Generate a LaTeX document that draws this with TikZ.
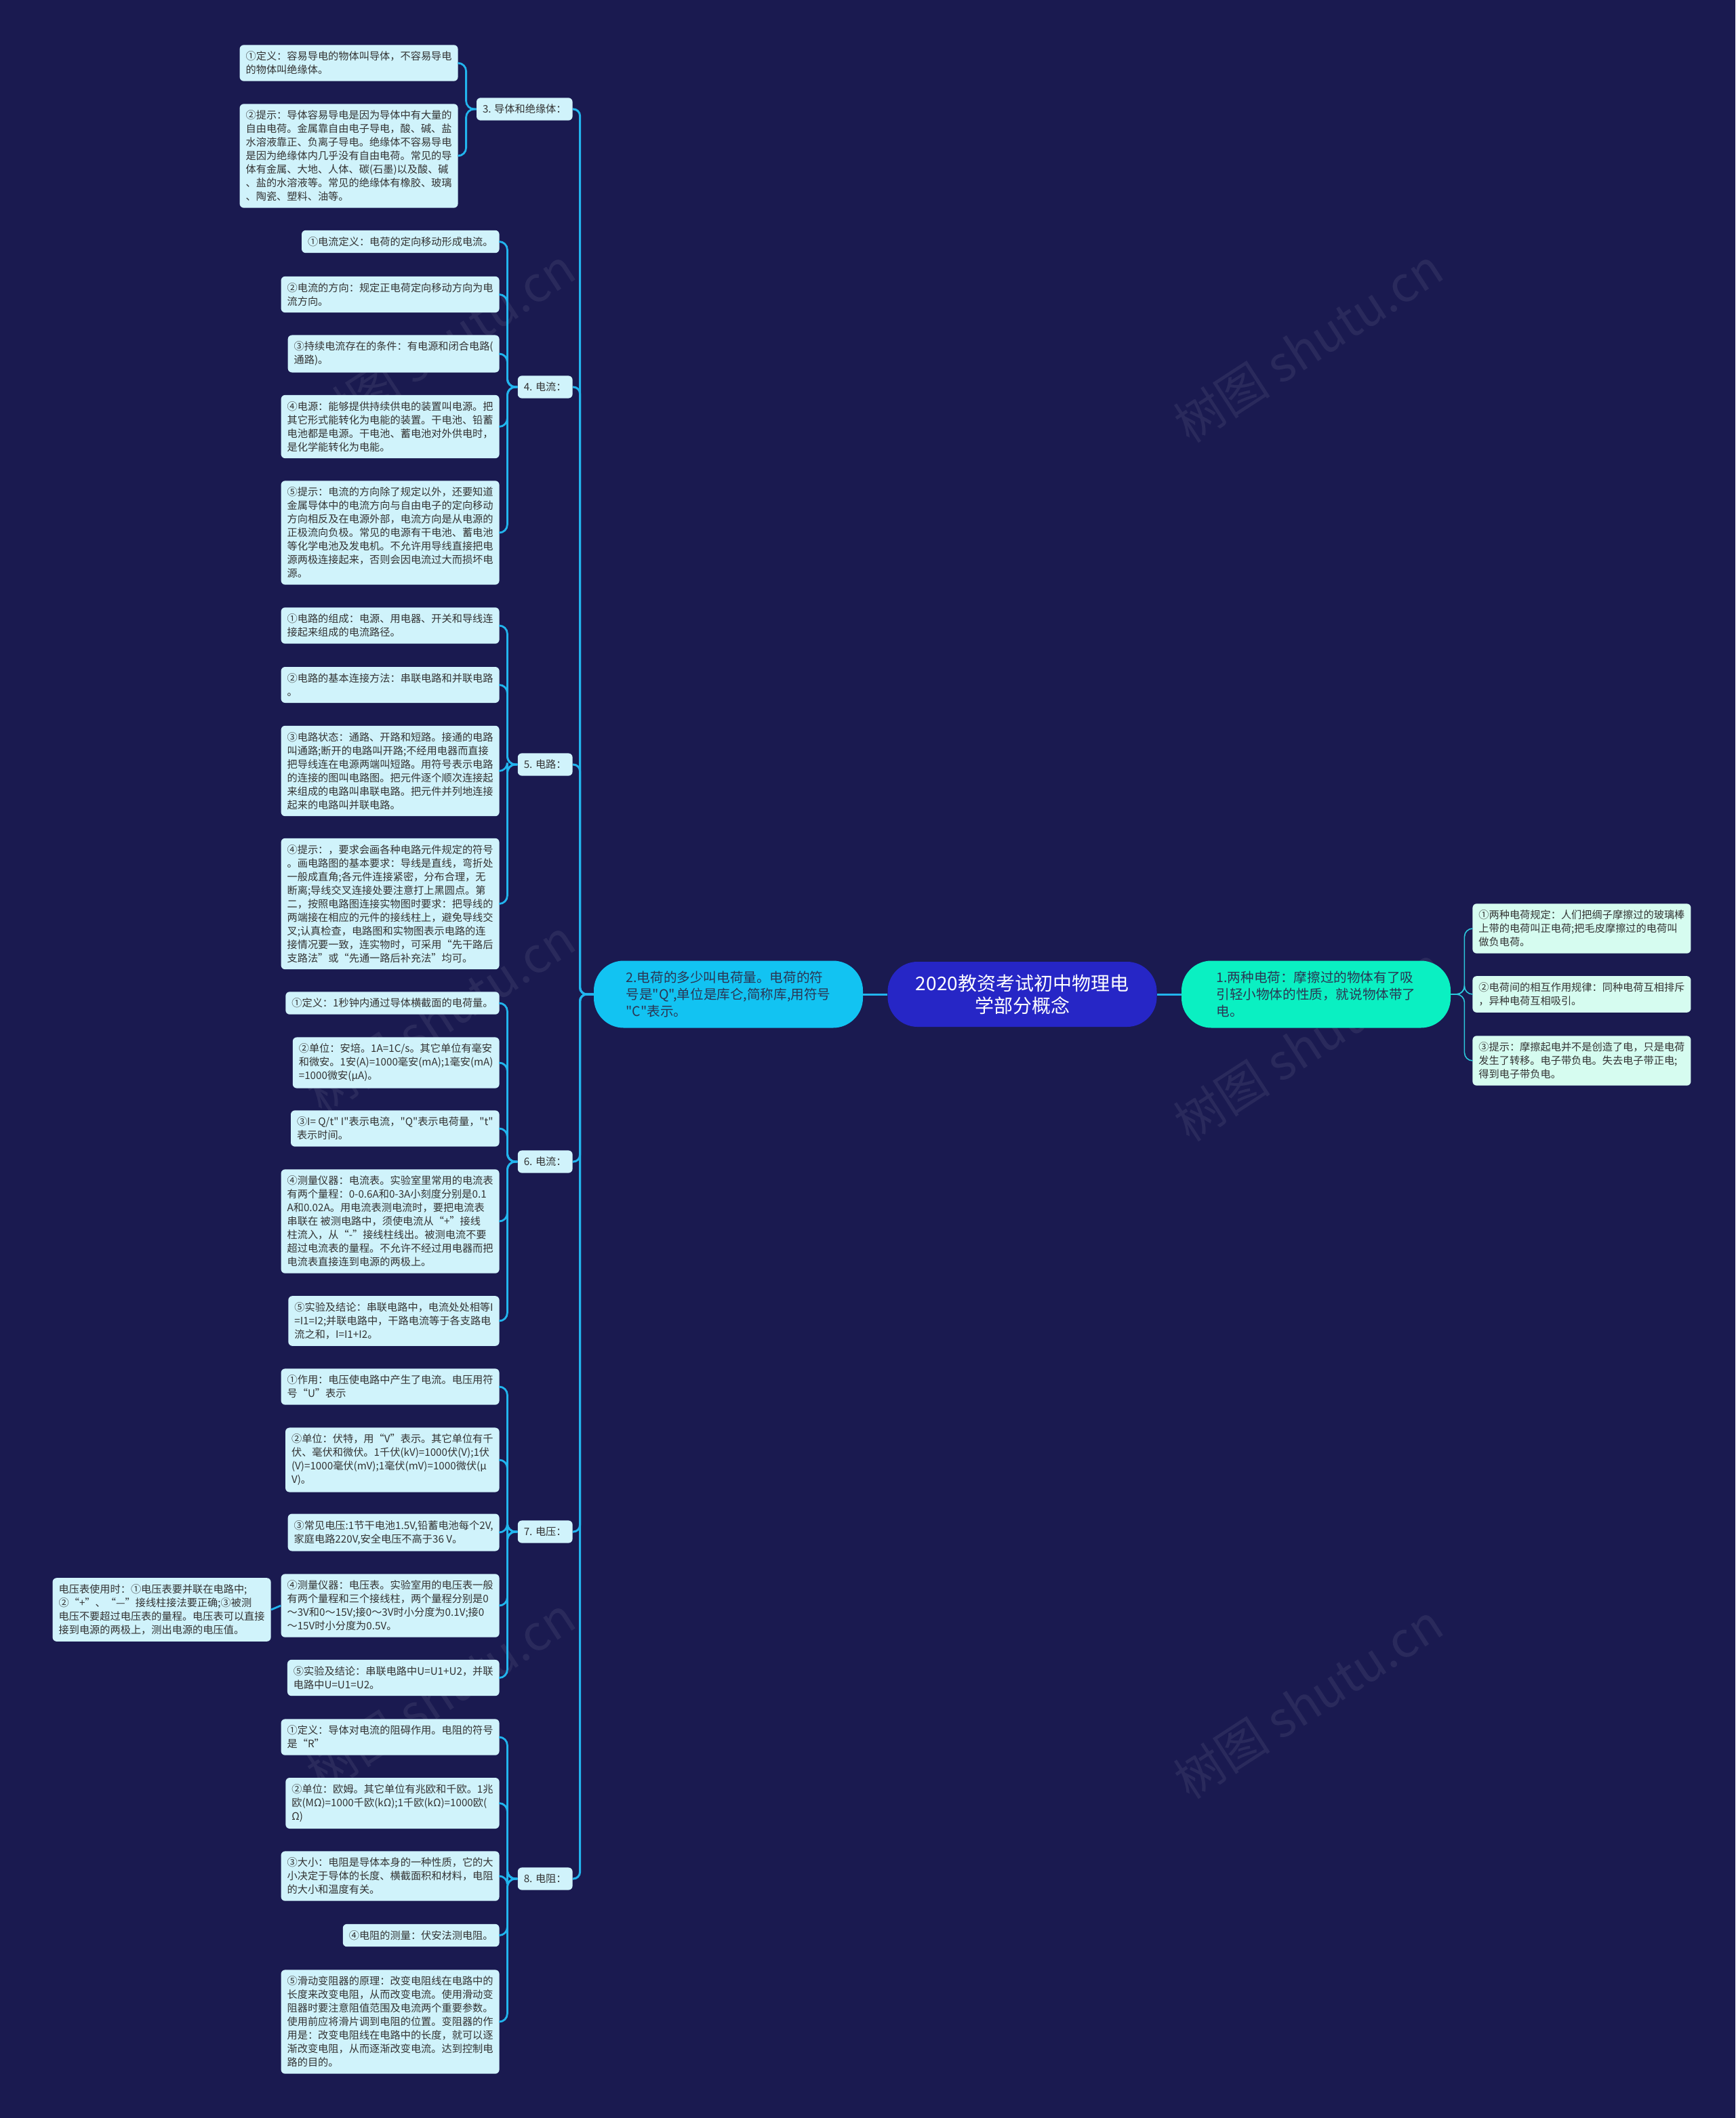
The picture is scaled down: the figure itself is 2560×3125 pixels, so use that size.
\documentclass[tikz,border=0pt]{standalone}
\usepackage{fontspec}
\newfontfamily\cjk{Noto Sans CJK SC}
\definecolor{bg}{HTML}{1A1A50}
\definecolor{leafc}{HTML}{D0F3FB}
\definecolor{rleafc}{HTML}{D6FCF0}
\definecolor{linec}{HTML}{22B5EE}
\definecolor{rlinec}{HTML}{2CC8DC}
\definecolor{txt}{HTML}{333333}
\definecolor{rootc}{HTML}{2626C6}
\definecolor{bonec}{HTML}{0AF0C2}
\definecolor{btwoc}{HTML}{12C3F2}
\definecolor{btxt}{HTML}{2B3553}
\begin{document}
\begin{tikzpicture}[x=0.5pt,y=-0.5pt,
  leaf/.style={fill=leafc, rounded corners=3pt, inner xsep=4.5pt, inner ysep=4.8pt, align=left, text=txt, font=\cjk\fontsize{7.6pt}{10pt}\selectfont},
  rleaf/.style={leaf, fill=rleafc},
  ltwo/.style={leaf},
  branch/.style={rounded corners=22pt, minimum width=198.5pt, minimum height=49.5pt, align=left, text=btxt, font=\cjk\fontsize{9.8pt}{12.5pt}\selectfont, inner sep=0pt},
  conn/.style={draw=linec, line width=1.4pt, rounded corners=6pt},
  mconn/.style={draw=linec, line width=1.5pt, rounded corners=5pt},
  rconn/.style={draw=rlinec, line width=0.8pt, rounded corners=6pt},
  wm/.style={text=white, opacity=0.07, font=\cjk\fontsize{36pt}{40pt}\selectfont, rotate=33}
]
\fill[bg] (0,0) rectangle (2560,3125);
\useasboundingbox (0,0) rectangle (2560,3125);

% watermarks
\node[wm] (w1) at (650,510) {树图 shutu.cn};
\node[wm] (w2) at (1930,510) {树图 shutu.cn};
\node[wm] (w3) at (650,1500) {树图 shutu.cn};
\node[wm] (w4) at (1930,1540) {树图 shutu.cn};
\node[wm] (w5) at (650,2500) {树图 shutu.cn};
\node[wm] (w6) at (1930,2510) {树图 shutu.cn};

% centre
\node[branch, fill=rootc, text=white, align=center, font=\cjk\fontsize{14pt}{16.5pt}\selectfont, minimum height=48pt] (root) at (1508,1467) {2020教资考试初中物理电\\学部分概念};
\node[branch, fill=bonec] (b1) at (1941.5,1467) {1.两种电荷：摩擦过的物体有了吸\\引轻小物体的性质，就说物体带了\\电。};
\node[branch, fill=btwoc] (b2) at (1074.5,1467) {2.电荷的多少叫电荷量。电荷的符\\号是"Q",单位是库仑,简称库,用符号\\"C"表示。};
\draw[mconn] (root.west) -- (b2.east);
\draw[mconn] (root.east) -- (b1.west);

% right leaves
\node[rleaf, anchor=west] (r1) at (2172,1370) {①两种电荷规定：人们把绸子摩擦过的玻璃棒\\上带的电荷叫正电荷;把毛皮摩擦过的电荷叫\\做负电荷。};
\node[rleaf, anchor=west] (r2) at (2172,1467) {②电荷间的相互作用规律：同种电荷互相排斥\\，异种电荷互相吸引。};
\node[rleaf, anchor=west] (r3) at (2172,1565) {③提示：摩擦起电并不是创造了电，只是电荷\\发生了转移。电子带负电。失去电子带正电;\\得到电子带负电。};
\foreach \r in {r1,r2,r3} \draw[rconn] (b1.east) -- ++(20,0) |- (\r.west);

% level two
\node[ltwo, anchor=east] (n3) at (845,161) {3. 导体和绝缘体：};
\node[ltwo, anchor=east] (n4) at (845,571) {4. 电流：};
\node[ltwo, anchor=east] (n5) at (845,1128) {5. 电路：};
\node[ltwo, anchor=east] (n6) at (845,1714) {6. 电流：};
\node[ltwo, anchor=east] (n7) at (845,2260) {7. 电压：};
\node[ltwo, anchor=east] (n8) at (845,2772) {8. 电阻：};
\foreach \n in {n3,n4,n5,n6,n7,n8} \draw[mconn] (b2.west) -- ++(-20,0) |- (\n.east);

% section 3
\node[leaf, anchor=east] (n3a) at (676,93) {①定义：容易导电的物体叫导体，不容易导电\\的物体叫绝缘体。};
\node[leaf, anchor=east] (n3b) at (676,230) {②提示：导体容易导电是因为导体中有大量的\\自由电荷。金属靠自由电子导电，酸、碱、盐\\水溶液靠正、负离子导电。绝缘体不容易导电\\是因为绝缘体内几乎没有自由电荷。常见的导\\体有金属、大地、人体、碳(石墨)以及酸、碱\\、盐的水溶液等。常见的绝缘体有橡胶、玻璃\\、陶瓷、塑料、油等。};
\foreach \m in {n3a,n3b} \draw[conn] (n3.west) -- ++(-15,0) |- (\m.east);

% section 4
\node[leaf, anchor=east] (n4a) at (737,356.5) {①电流定义：电荷的定向移动形成电流。};
\node[leaf, anchor=east] (n4b) at (737,434.5) {②电流的方向：规定正电荷定向移动方向为电\\流方向。};
\node[leaf, anchor=east] (n4c) at (737,522) {③持续电流存在的条件：有电源和闭合电路(\\通路)。};
\node[leaf, anchor=east] (n4d) at (737,629.5) {④电源：能够提供持续供电的装置叫电源。把\\其它形式能转化为电能的装置。干电池、铅蓄\\电池都是电源。干电池、蓄电池对外供电时，\\是化学能转化为电能。};
\node[leaf, anchor=east] (n4e) at (737,786) {⑤提示：电流的方向除了规定以外，还要知道\\金属导体中的电流方向与自由电子的定向移动\\方向相反及在电源外部，电流方向是从电源的\\正极流向负极。常见的电源有干电池、蓄电池\\等化学电池及发电机。不允许用导线直接把电\\源两极连接起来，否则会因电流过大而损坏电\\源。};
\foreach \m in {n4a,n4b,n4c,n4d,n4e} \draw[conn] (n4.west) -- ++(-15,0) |- (\m.east);

% section 5
\node[leaf, anchor=east] (n5a) at (737,923) {①电路的组成：电源、用电器、开关和导线连\\接起来组成的电流路径。};
\node[leaf, anchor=east] (n5b) at (737,1010.5) {②电路的基本连接方法：串联电路和并联电路\\。};
\node[leaf, anchor=east] (n5c) at (737,1137.5) {③电路状态：通路、开路和短路。接通的电路\\叫通路;断开的电路叫开路;不经用电器而直接\\把导线连在电源两端叫短路。用符号表示电路\\的连接的图叫电路图。把元件逐个顺次连接起\\来组成的电路叫串联电路。把元件并列地连接\\起来的电路叫并联电路。};
\node[leaf, anchor=east] (n5d) at (737,1333.5) {④提示：，要求会画各种电路元件规定的符号\\。画电路图的基本要求：导线是直线，弯折处\\一般成直角;各元件连接紧密，分布合理，无\\断离;导线交叉连接处要注意打上黑圆点。第\\二，按照电路图连接实物图时要求：把导线的\\两端接在相应的元件的接线柱上，避免导线交\\叉;认真检查，电路图和实物图表示电路的连\\接情况要一致，连实物时，可采用“先干路后\\支路法”或“先通一路后补充法”均可。};
\foreach \m in {n5a,n5b,n5c,n5d} \draw[conn] (n5.west) -- ++(-15,0) |- (\m.east);

% section 6
\node[leaf, anchor=east] (n6a) at (737,1480) {①定义：1秒钟内通过导体横截面的电荷量。};
\node[leaf, anchor=east] (n6b) at (737,1568) {②单位：安培。1A=1C/s。其它单位有毫安\\和微安。1安(A)=1000毫安(mA);1毫安(mA)\\=1000微安(μA)。};
\node[leaf, anchor=east] (n6c) at (737,1665) {③I= Q/t" I"表示电流，"Q"表示电荷量，"t"\\表示时间。};
\node[leaf, anchor=east] (n6d) at (737,1802) {④测量仪器：电流表。实验室里常用的电流表\\有两个量程：0-0.6A和0-3A小刻度分别是0.1\\A和0.02A。用电流表测电流时，要把电流表\\串联在 被测电路中，须使电流从“+”接线\\柱流入，从“-”接线柱线出。被测电流不要\\超过电流表的量程。不允许不经过用电器而把\\电流表直接连到电源的两极上。};
\node[leaf, anchor=east] (n6e) at (737,1949) {⑤实验及结论：串联电路中，电流处处相等I\\=I1=I2;并联电路中，干路电流等于各支路电\\流之和，I=I1+I2。};
\foreach \m in {n6a,n6b,n6c,n6d,n6e} \draw[conn] (n6.west) -- ++(-15,0) |- (\m.east);

% section 7
\node[leaf, anchor=east] (n7a) at (737,2046) {①作用：电压使电路中产生了电流。电压用符\\号“U”表示};
\node[leaf, anchor=east] (n7b) at (737,2154) {②单位：伏特，用“V”表示。其它单位有千\\伏、毫伏和微伏。1千伏(kV)=1000伏(V);1伏\\(V)=1000毫伏(mV);1毫伏(mV)=1000微伏(μ\\V)。};
\node[leaf, anchor=east] (n7c) at (737,2261) {③常见电压:1节干电池1.5V,铅蓄电池每个2V,\\家庭电路220V,安全电压不高于36 V。};
\node[leaf, anchor=east] (n7d) at (737,2369) {④测量仪器：电压表。实验室用的电压表一般\\有两个量程和三个接线柱，两个量程分别是0\\～3V和0～15V;接0～3V时小分度为0.1V;接0\\～15V时小分度为0.5V。};
\node[leaf, anchor=east] (n7e) at (737,2475.5) {⑤实验及结论：串联电路中U=U1+U2，并联\\电路中U=U1=U2。};
\foreach \m in {n7a,n7b,n7c,n7d,n7e} \draw[conn] (n7.west) -- ++(-15,0) |- (\m.east);
\node[leaf, anchor=east] (n7x) at (400,2375) {电压表使用时：①电压表要并联在电路中;\\②“+”、“—”接线柱接法要正确;③被测\\电压不要超过电压表的量程。电压表可以直接\\接到电源的两极上，测出电源的电压值。};
\draw[conn] (n7d.west) -- (n7x.east);

% section 8
\node[leaf, anchor=east] (n8a) at (737,2563) {①定义：导体对电流的阻碍作用。电阻的符号\\是“R”};
\node[leaf, anchor=east] (n8b) at (737,2660.5) {②单位：欧姆。其它单位有兆欧和千欧。1兆\\欧(MΩ)=1000千欧(kΩ);1千欧(kΩ)=1000欧(\\Ω)};
\node[leaf, anchor=east] (n8c) at (737,2768) {③大小：电阻是导体本身的一种性质，它的大\\小决定于导体的长度、横截面积和材料，电阻\\的大小和温度有关。};
\node[leaf, anchor=east] (n8d) at (737,2855.5) {④电阻的测量：伏安法测电阻。};
\node[leaf, anchor=east] (n8e) at (737,2983) {⑤滑动变阻器的原理：改变电阻线在电路中的\\长度来改变电阻，从而改变电流。使用滑动变\\阻器时要注意阻值范围及电流两个重要参数。\\使用前应将滑片调到电阻的位置。变阻器的作\\用是：改变电阻线在电路中的长度，就可以逐\\渐改变电阻，从而逐渐改变电流。达到控制电\\路的目的。};
\foreach \m in {n8a,n8b,n8c,n8d,n8e} \draw[conn] (n8.west) -- ++(-15,0) |- (\m.east);
\end{tikzpicture}
\end{document}
